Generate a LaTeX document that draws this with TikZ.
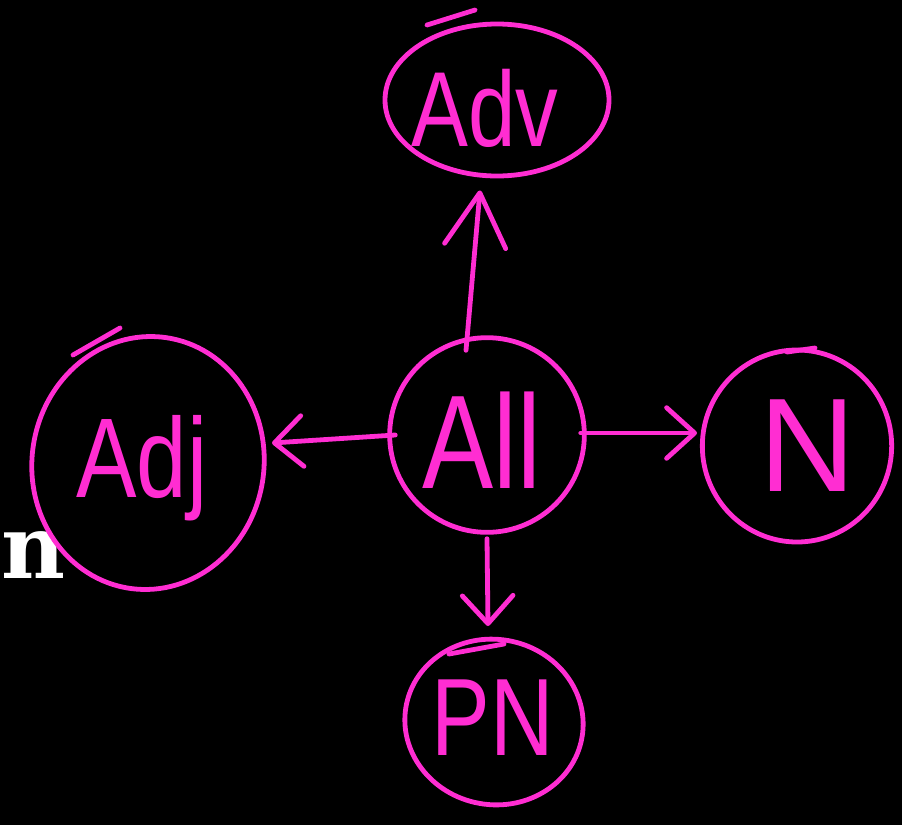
\documentclass[tikz,border=0pt]{standalone}
\usepackage{fontspec}
\usepackage{graphicx}
\setsansfont{Liberation Sans}
\newfontfamily\slabfont{DejaVu Serif}
\usetikzlibrary{shapes.geometric,arrows.meta,calc}
\definecolor{pinkc}{RGB}{255,45,210}
\tikzset{
  bubble/.style={ellipse, draw=pinkc, line width=3.6pt, inner sep=0pt, text=pinkc, font=\sffamily},
  conn/.style={draw=pinkc, line width=3.6pt, line cap=round, line join=round,
    -{Straight Barb[length=21pt,width=38pt,line width=3.6pt,round]}},
  bigconn/.style={conn, -{Straight Barb[length=40pt,width=46pt,line width=3.6pt,round]}},
  tail/.style={draw=pinkc, line width=3.6pt, line cap=round},
}
\begin{document}
\begin{tikzpicture}[x=0.75pt,y=-0.75pt]
\fill[black] (0,0) rectangle (902,825);
\useasboundingbox (0,0) rectangle (902,825);
% white letter at the left edge
\node[anchor=base west, inner sep=0pt, text=white, font=\slabfont\bfseries\fontsize{66}{66}\selectfont] (nletter) at (1,578) {n};
% nodes
\node[bubble, minimum width=168pt, minimum height=114pt] (Adv) at (497,100) {};
\node[text=pinkc, font=\sffamily\fontsize{64}{64}\selectfont] (AdvT) at (485,108) {\scalebox{1}[1.25]{Adv}};
\node[bubble, circle, minimum size=146pt] (All) at (487,435) {};
\node[text=pinkc, font=\sffamily\fontsize{80}{80}\selectfont] (AllT) at (482,440) {\scalebox{1}[1.25]{All}};
\node[bubble, minimum width=174pt, minimum height=190pt, rotate=-8] (Adj) at (148,463) {};
\node[text=pinkc, font=\sffamily\fontsize{68}{68}\selectfont] (AdjT) at (142,468) {\scalebox{1}[1.25]{Adj}};
\node[bubble, minimum width=142pt, minimum height=144pt] (N) at (797,446) {};
\node[text=pinkc, font=\sffamily\fontsize{100}{100}\selectfont] (NT) at (808,446) {N};
\node[bubble, minimum width=134pt, minimum height=124pt, rotate=-10] (PN) at (494,722) {};
\node[text=pinkc, font=\sffamily\fontsize{66}{66}\selectfont] (PNT) at (493,718) {\scalebox{1}[1.25]{PN}};
% overshoot strokes of the hand-drawn rings
\draw[tail] ([shift={(-70,-75)}]Adv.center) -- ([shift={(-22,-90)}]Adv.center);
\draw[tail] ([shift={(-75,-108)}]Adj.center) -- ([shift={(-28,-135)}]Adj.center);
\draw[tail] ([shift={(-10,-94)}]N.center) -- ([shift={(18,-98)}]N.center);
\draw[tail] ([shift={(-45,-68)}]PN.center) -- ([shift={(10,-78)}]PN.center);
% connectors
\draw[bigconn] ([shift={(-21,15)}]All.north) -- ([shift={(-17,12)}]Adv.south);
\draw[conn] ([shift={(8,0)}]All.west) -- ($(Adj.center)+(124,-20)$);
\draw[conn] ([shift={(-6,-2)}]All.east) -- ($(N.center)+(-100,-13)$);
\draw[conn] ([shift={(0,4)}]All.south) -- ($(PN.center)+(-6,-96)$);
\end{tikzpicture}
\end{document}
